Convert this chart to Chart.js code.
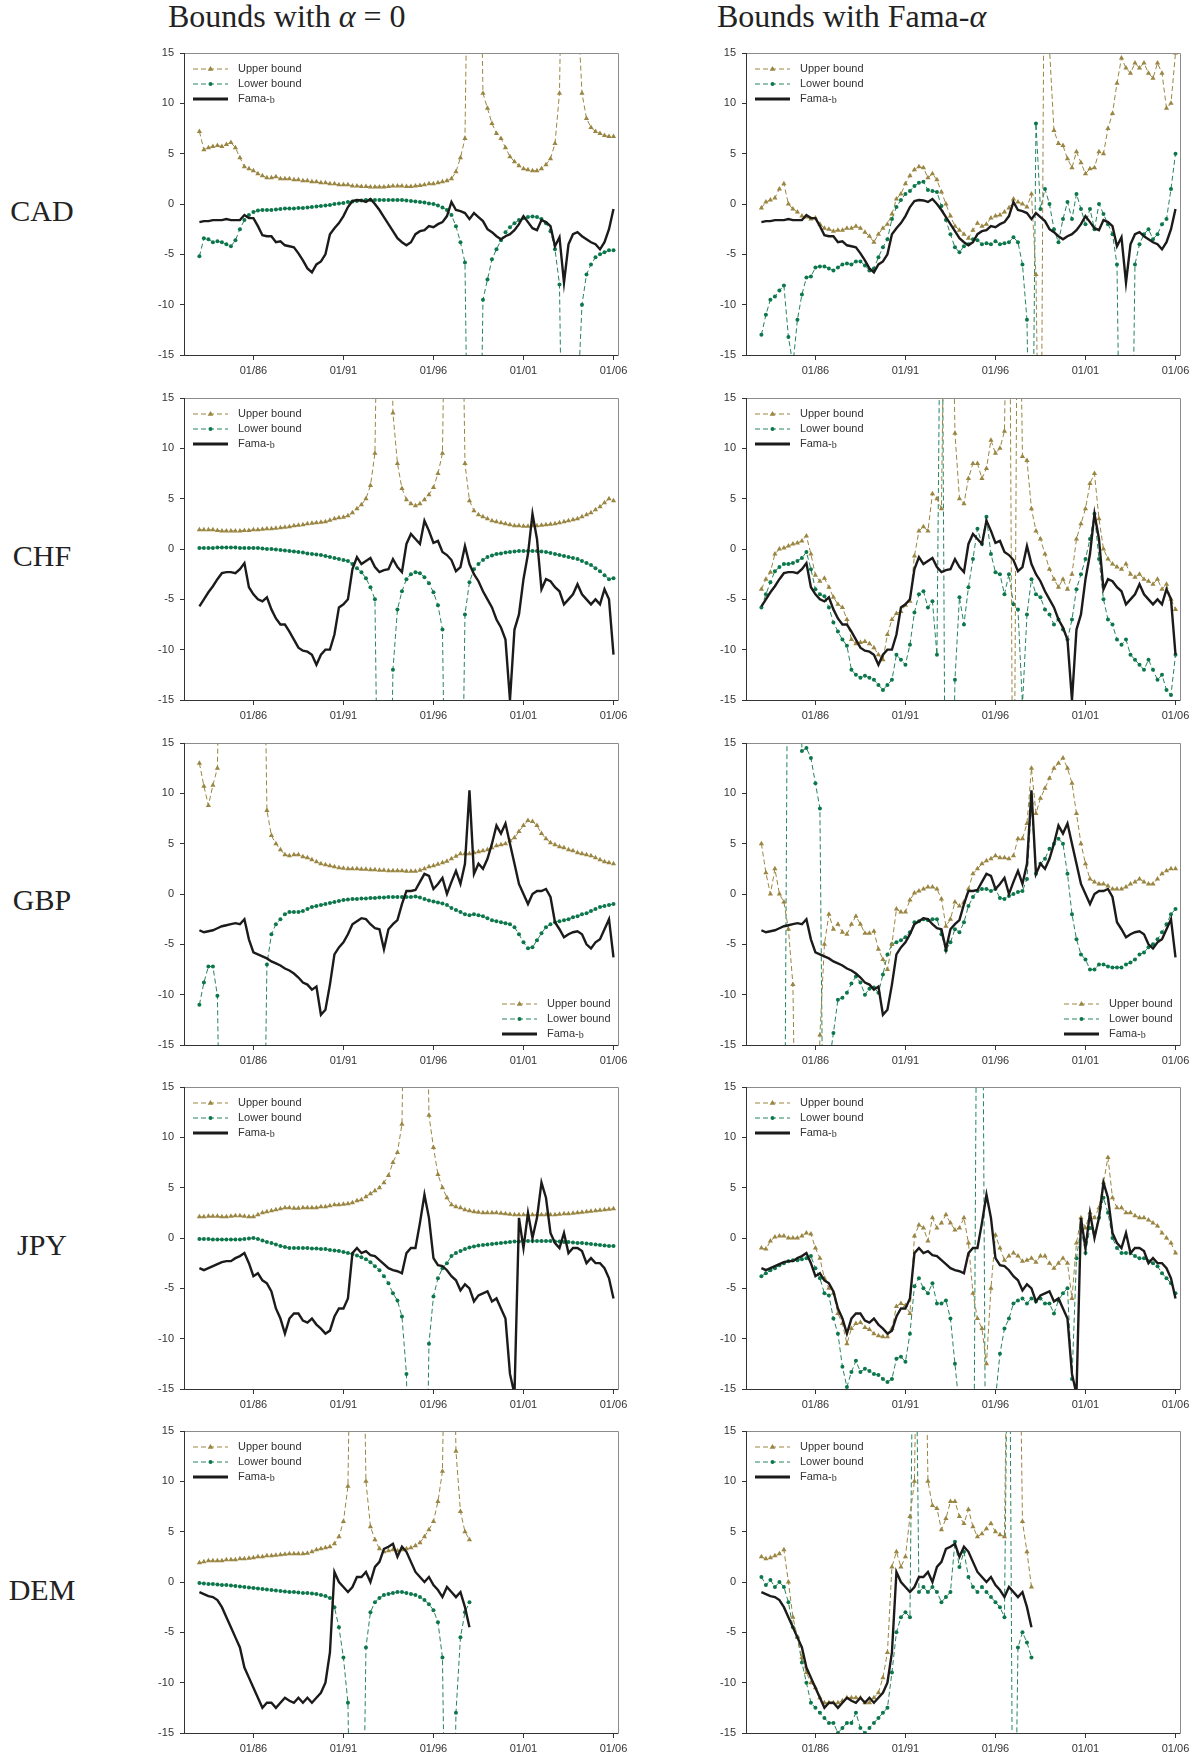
<!DOCTYPE html>
<html><head><meta charset="utf-8">
<script src="https://cdn.jsdelivr.net/npm/chart.js@4.4.0/dist/chart.umd.min.js"></script>
<style>
body{margin:0;background:#fff;width:1200px;height:1760px;position:relative;overflow:hidden}
.t{position:absolute;font-family:"Liberation Serif","DejaVu Serif",serif;color:#222;white-space:nowrap}
canvas{position:absolute}
</style></head><body>
<div class="t" style="left:168px;top:0px;font-size:32px;line-height:32px">Bounds with <i>α</i> = 0</div>
<div class="t" style="left:717px;top:0px;font-size:32px;line-height:32px">Bounds with Fama-<i>α</i></div>
<script>
// ---- time grid (quarterly samples) ----
const START = 1983, STEP = 0.25;
const xTickYears = [1986, 1991, 1996, 2001, 2006];
const xTickLabels = ['01/86', '01/91', '01/96', '01/01', '01/06'];
const yTicks = [-15, -10, -5, 0, 5, 10, 15];
const currencies = ['CAD', 'CHF', 'GBP', 'JPY', 'DEM'];
const seriesNames = ['Upper bound', 'Lower bound', 'Fama-b'];

// ---- CAD ----
const cad_fb = [-1.8,-1.7,-1.7,-1.6, -1.6,-1.6,-1.5,-1.6, -1.6,-1.6,-1.1,-1.4, -1.4,-2.2,-3.1,-3.2, -3.2,-3.8,-3.7,-4.1, -4.2,-4.3,-4.9,-5.6, -6.4,-6.8,-6.0,-5.7, -5.0,-3.0,-2.4,-1.9, -1.2,-0.3,0.3,0.4, 0.35,0.2,0.5,0.0, -0.6,-1.3,-2.0,-2.7, -3.4,-3.8,-4.1,-3.8, -3.0,-2.7,-2.6,-2.2, -2.3,-2.0,-1.8,-1.2, 0.2,-0.6,-0.7,-0.9, -1.5,-0.9,-1.3,-1.7, -2.5,-2.8,-3.2,-3.5, -3.2,-3.0,-2.6,-2.0, -1.2,-1.8,-2.4,-2.6, -1.6,-1.8,-2.2,-4.2, -3.3,-7.8,-4.0,-3.0, -2.8,-3.2,-3.5,-3.8, -4.0,-4.5,-3.8,-2.5, -0.5];
const cad_up0 = [7.2,5.4,5.6,5.7, 5.8,5.7,5.9,6.1, 5.6,4.6,3.7,3.5, 3.3,3.0,2.8,2.6, 2.6,2.7,2.5,2.5, 2.5,2.4,2.4,2.3, 2.3,2.2,2.2,2.1, 2.1,2.0,2.0,1.9, 1.9,1.9,1.8,1.8, 1.75,1.75,1.7,1.7, 1.7,1.7,1.75,1.8, 1.8,1.8,1.75,1.75, 1.8,1.85,1.9,2.0, 2.0,2.1,2.2,2.3, 2.5,3.2,4.6,6.5, 40,40,40,11, 9.5,8.0,7.0,6.5, 5.6,4.7,4.2,3.8, 3.5,3.4,3.3,3.3, 3.5,3.9,4.5,6.0, 11,40,40,40, 20,11,8.5,7.6, 7.2,7.0,6.8,6.7, 6.7];
const cad_lo0 = [-5.2,-3.4,-3.5,-3.8, -3.7,-3.8,-4.0,-4.2, -3.6,-2.5,-1.6,-1.1, -0.8,-0.65,-0.6,-0.6, -0.6,-0.55,-0.5,-0.45, -0.45,-0.45,-0.4,-0.4, -0.35,-0.3,-0.25,-0.2, -0.15,-0.1,0.0,0.05, 0.1,0.2,0.25,0.3, 0.35,0.4,0.4,0.4, 0.4,0.4,0.4,0.4, 0.4,0.4,0.35,0.3, 0.25,0.2,0.15,0.05, 0.0,-0.15,-0.35,-0.6, -1.1,-2.2,-3.8,-5.8, -40,-40,-40,-9.5, -7.5,-5.5,-4.5,-3.6, -2.8,-2.3,-1.9,-1.6, -1.4,-1.3,-1.25,-1.3, -1.5,-1.9,-2.7,-4.5, -8,-40,-40,-40, -20,-10,-7,-6, -5.3,-5.0,-4.8,-4.6, -4.6];
const cad_upF = [-0.4,0.2,0.4,0.6, 1.5,2.0,0.0,-0.5, -0.8,-1.2,-1.3,-1.5, -1.4,-2.0,-2.4,-2.5, -2.7,-2.6,-2.6,-2.4, -2.4,-2.2,-2.4,-2.8, -3.2,-3.8,-3.0,-2.4, -2.0,-1.0,0.5,1.0, 2.0,2.8,3.4,3.7, 3.6,2.6,3.0,2.4, 1.2,0.0,-1.2,-2.2, -2.6,-3.0,-3.4,-2.6, -1.9,-2.2,-2.0,-1.4, -1.2,-1.1,-0.8,-0.4, 0.5,0.2,0.0,-0.3, 1.0,-7.0,-40,40, 15.5,7.3,6.0,5.8, 4.5,3.6,5.2,4.1, 3.0,3.5,3.6,5.2, 5.0,7.5,9.0,12, 14.5,13.5,13,14, 13.5,14,13,12.5, 14,13,9.5,10, 15];
const cad_loF = [-13,-11,-9.5,-9.2, -8.6,-8.1,-13.2,-16, -11.5,-9.0,-7.3,-7.2, -6.3,-6.2,-6.2,-6.4, -6.6,-6.3,-6.0,-5.9, -6.0,-5.7,-5.7,-6.1, -6.6,-6.4,-5.3,-4.3, -3.5,-1.5,-0.3,0.4, 1.0,1.3,1.8,2.1, 2.2,1.4,1.3,1.2, -0.2,-1.6,-3.0,-4.3, -4.8,-4.2,-4.0,-3.5, -3.6,-4.0,-3.9,-4.0, -3.7,-4.0,-3.9,-3.8, -3.3,-3.8,-6.0,-11.5, -40,8,-0.5,1.5, 0.0,-2.5,-3.8,-1.5, 0.2,-1.5,1.0,-0.5, -2.0,-0.5,-2.5,0.0, -1.0,-2.0,-3.0,-6, -40,-40,-40,-6, -4.0,-3.0,-2.5,-3.5, -3.0,-2.0,-1.5,1.5, 5.0];

// ---- CHF ----
const chf_fb = [-5.7,-5.0,-4.3,-3.7, -3.0,-2.4,-2.3,-2.3, -2.4,-2.0,-1.4,-3.8, -4.5,-5.0,-5.2,-4.8, -6.0,-6.9,-7.5,-7.5, -8.2,-9.0,-9.8,-10.1, -10.2,-10.5,-11.5,-10.5, -10.0,-10.0,-8.5,-5.8, -5.5,-5.0,-2.0,-0.8, -1.5,-1.2,-0.9,-1.8, -2.3,-2.1,-2.0,-1.0, -1.8,-2.3,0.5,1.5, 1.0,0.5,2.8,1.8, 0.6,0.8,-0.3,-0.6, -1.1,-2.2,-1.8,0.3, -1.5,-2.5,-3.2,-4.2, -5.0,-5.8,-7.0,-7.8, -9.0,-15,-8,-6.5, -3.0,-0.5,3.5,1.0, -4.0,-3.0,-3.2,-3.8, -4.2,-5.5,-5.0,-4.5, -3.5,-4.5,-5.0,-5.5, -5.0,-5.5,-4.0,-5.0, -10.5];
const chf_up0 = [1.9,1.9,1.9,1.9, 1.85,1.8,1.8,1.8, 1.8,1.8,1.85,1.85, 1.9,1.9,1.95,2.0, 2.0,2.05,2.1,2.15, 2.2,2.3,2.35,2.4, 2.5,2.55,2.6,2.65, 2.7,2.85,3.0,3.1, 3.15,3.3,3.6,4.0, 4.4,5.0,6.3,9.5, 40,40,40,13.5, 8.5,6.0,4.9,4.5, 4.3,4.5,4.9,5.4, 6.1,7.5,9.5,40, 40,40,40,8.5, 4.8,3.8,3.4,3.2, 3.0,2.8,2.7,2.6, 2.5,2.4,2.3,2.3, 2.25,2.25,2.3,2.3, 2.35,2.4,2.45,2.5, 2.6,2.7,2.8,2.9, 3.0,3.2,3.4,3.6, 3.9,4.2,4.6,5.0, 4.8];
const chf_lo0 = [0.1,0.1,0.1,0.1, 0.15,0.15,0.15,0.15, 0.15,0.1,0.1,0.1, 0.1,0.1,0.05,0.0, 0.0,-0.05,-0.1,-0.15, -0.2,-0.25,-0.3,-0.35, -0.45,-0.5,-0.55,-0.6, -0.7,-0.8,-0.9,-1.0, -1.1,-1.2,-1.5,-1.9, -2.3,-2.9,-3.8,-5.0, -40,-40,-40,-12, -6.0,-4.2,-3.0,-2.5, -2.3,-2.4,-2.8,-3.4, -4.3,-5.6,-8.0,-40, -40,-40,-40,-6.5, -3.3,-2.0,-1.5,-1.1, -0.8,-0.65,-0.5,-0.45, -0.35,-0.3,-0.25,-0.2, -0.2,-0.2,-0.2,-0.2, -0.25,-0.3,-0.4,-0.5, -0.6,-0.7,-0.8,-0.9, -1.0,-1.2,-1.4,-1.6, -1.9,-2.2,-2.6,-3.0, -2.9];
const chf_upF = [-4.0,-3.0,-2.3,-0.5, 0.0,0.1,0.3,0.5, 0.6,0.8,1.3,-0.5, -2.6,-3.2,-2.9,-3.8, -4.8,-5.5,-5.8,-7.0, -9.0,-9.4,-9.3,-9.2, -9.4,-9.8,-10.5,-11.0, -8.5,-7.0,-6.4,-6.2, -5.6,-5.2,-0.7,1.8, 2.2,1.8,5.5,5.0, 4.0,40,40,11.5, 5.0,4.5,7.0,8.5, 8.5,7.0,8.0,10.8, 9.5,10.0,11.7,40, -40,40,9.2,8.8, 4.0,1.8,1.0,-0.5, -2.0,-3.0,-3.8,-3.0, -4.0,-2.5,1.0,2.5, 4.0,6.5,7.5,3.0, 0.0,-1.0,-1.5,-1.8, -2.0,-1.5,-2.5,-2.8, -2.5,-3.0,-3.2,-3.5, -3.0,-4.0,-3.5,-5.0, -6.0];
const chf_loF = [-5.8,-4.5,-3.3,-2.2, -1.8,-1.5,-1.5,-1.4, -1.2,-0.9,-0.3,-2.0, -4.0,-4.5,-4.7,-5.8, -7.3,-8.2,-9.0,-9.6, -12.0,-12.5,-12.8,-12.6, -12.8,-13.0,-13.5,-14.0, -13.5,-13.0,-10.5,-11.0, -11.5,-9.5,-6.3,-4.5, -4.2,-5.8,-5.2,-10.5, 40,-40,-40,-13, -4.8,-7.5,-3.8,-1.0, 2.0,0.5,3.2,-0.5, -2.3,-2.5,-4.5,-2.5, -5.5,-6.0,-15.5,-6.5, -3.0,-4.5,-4.8,-6.0, -6.5,-7.5,-7.0,-8.0, -9.0,-7.0,-4.0,-2.5, -1.0,1.0,3.5,-1.0, -5.0,-7.0,-7.5,-9.0, -9.5,-9.0,-10.5,-11.0, -11.5,-12.0,-11.0,-12.0, -13.0,-12.5,-14.0,-14.5, -10.5];

// ---- GBP ----
const gbp_fb = [-3.6,-3.8,-3.7,-3.6, -3.4,-3.2,-3.1,-3.0, -2.9,-3.0,-2.5,-4.5, -5.8,-6.0,-6.2,-6.4, -6.7,-6.9,-7.1,-7.4, -7.6,-7.9,-8.3,-8.8, -9.0,-9.5,-9.2,-12.0, -11.5,-9.0,-6.0,-5.3, -4.8,-4.0,-3.0,-2.7, -2.4,-2.5,-3.0,-3.4, -3.5,-5.5,-3.5,-3.0, -2.6,-1.0,0.3,0.3, 0.4,1.2,2.0,1.8, 0.5,1.0,1.6,0.0, 1.2,2.3,1.0,3.0, 10.3,2.0,3.0,2.5, 3.5,5.0,6.8,6.0, 7.0,5.0,3.0,1.0, 0.0,-1.0,0.0,0.3, 0.3,0.5,-0.3,-2.8, -3.5,-4.3,-4.0,-3.8, -3.7,-4.0,-5.0,-5.4, -4.8,-4.5,-3.5,-2.5, -6.3];
const gbp_up0 = [13.0,10.7,8.8,10.8, 12.5,40,40,40, 40,40,40,40, 40,40,40,8.3, 5.8,5.0,4.4,3.9, 3.8,3.9,3.9,3.7, 3.6,3.4,3.2,3.0, 2.9,2.8,2.7,2.6, 2.55,2.5,2.5,2.5, 2.45,2.45,2.4,2.4, 2.35,2.35,2.3,2.3, 2.3,2.3,2.25,2.25, 2.25,2.35,2.5,2.7, 2.8,2.95,3.1,3.25, 3.5,3.75,4.0,4.0, 4.0,4.1,4.2,4.3, 4.4,4.6,4.8,4.9, 5.0,5.3,5.6,6.2, 6.8,7.3,7.2,6.8, 6.0,5.5,5.1,4.9, 4.7,4.6,4.4,4.3, 4.1,4.0,3.9,3.8, 3.6,3.4,3.2,3.1, 3.0];
const gbp_lo0 = [-11.0,-8.8,-7.2,-7.2, -10.1,-40,-40,-40, -40,-40,-40,-40, -40,-40,-40,-7.0, -4.0,-3.0,-2.5,-2.0, -1.8,-1.8,-1.8,-1.7, -1.5,-1.3,-1.2,-1.1, -1.0,-0.9,-0.8,-0.7, -0.6,-0.55,-0.5,-0.5, -0.45,-0.45,-0.4,-0.4, -0.35,-0.35,-0.3,-0.3, -0.3,-0.3,-0.3,-0.3, -0.25,-0.35,-0.5,-0.65, -0.75,-0.85,-0.95,-1.1, -1.4,-1.6,-1.8,-2.0, -2.1,-2.0,-2.1,-2.2, -2.4,-2.6,-2.7,-2.8, -2.9,-3.0,-3.3,-4.0, -4.8,-5.4,-5.3,-4.6, -3.9,-3.3,-3.0,-2.8, -2.7,-2.6,-2.5,-2.3, -2.2,-2.0,-1.9,-1.7, -1.5,-1.3,-1.2,-1.1, -1.0];
const gbp_upF = [5.0,2.1,0.0,2.5, 0.0,-0.8,-3.5,-9.0, -40,-40,-40,-40, -40,-14,-5.0,-2.0, -3.5,-3.0,-3.8,-4.0, -3.0,-2.2,-3.0,-3.9, -3.9,-3.7,-5.5,-6.5, -7.5,-5.0,-1.5,-1.8, -1.8,-0.6,0.1,0.3, 0.5,0.7,0.7,0.5, -0.5,-3.2,-2.5,-0.8, -1.2,-0.8,0.5,2.0, 2.5,3.0,3.3,3.5, 3.8,3.6,3.6,3.5, 3.8,5.5,5.5,7.0, 12.5,8.0,9.5,10.5, 11.5,12.5,13.0,13.5, 12.5,11.0,8.0,5.0, 3.0,1.5,1.2,1.0, 1.0,0.8,0.5,0.5, 0.5,0.7,1.0,1.2, 1.5,1.2,1.0,1.0, 1.5,2.0,2.3,2.5, 2.5];
const gbp_loF = [-40,-40,-40,-40, -40,-40,40,40, 40,14.2,14.5,13.5, 11,8.5,-40,-17, -13.8,-10.5,-10.3,-9.8, -8.9,-8.2,-8.8,-10.0, -9.4,-9.3,-9.8,-8.0, -6.0,-5.0,-4.8,-4.6, -4.3,-3.8,-2.8,-2.7, -2.5,-2.6,-2.5,-2.5, -4.0,-5.6,-4.8,-3.5, -3.8,-2.8,-1.2,-0.3, 0.3,0.5,0.5,0.3, 0.5,-0.4,-0.5,-0.2, 0.0,0.2,0.3,1.5, 9.0,2.0,3.0,3.5, 4.5,5.0,5.5,5.0, 2.0,-2.0,-4.5,-6.0, -6.5,-7.5,-7.5,-7.0, -7.0,-7.2,-7.3,-7.3, -7.3,-7.0,-6.8,-6.5, -6.0,-5.8,-5.3,-5.0, -4.5,-3.8,-3.0,-2.0, -1.5];

// ---- JPY ----
const jpy_fb = [-3.0,-3.2,-3.0,-2.8, -2.6,-2.4,-2.3,-2.3, -2.0,-1.8,-1.5,-2.5, -3.8,-3.5,-4.2,-4.5, -5.3,-7.0,-8.0,-9.5, -8.0,-7.5,-7.5,-8.2, -8.4,-8.0,-8.6,-9.0, -9.5,-9.2,-7.8,-7.0, -7.0,-6.0,-1.5,-1.0, -1.5,-1.3,-1.7,-1.8, -2.2,-2.6,-3.0,-3.2, -3.3,-3.5,-1.5,-1.0, -1.0,1.5,4.3,2.0, -2.0,-2.7,-2.8,-3.2, -3.8,-4.2,-5.2,-4.6, -5.0,-6.3,-5.7,-5.5, -5.3,-6.3,-6.0,-7.0, -8.0,-13.5,-15.5,2.0, -1.0,2.5,0.0,2.0, 5.5,4.0,0.5,-0.5, -1.0,0.5,-1.5,-1.0, -1.0,-1.3,-2.5,-2.0, -2.5,-2.5,-3.0,-4.0, -6.0];
const jpy_up0 = [2.1,2.1,2.15,2.15, 2.15,2.1,2.1,2.15, 2.2,2.2,2.15,2.1, 2.1,2.3,2.5,2.6, 2.7,2.8,2.9,3.0, 3.0,2.95,2.95,3.0, 3.0,3.0,3.0,3.1, 3.1,3.2,3.3,3.3, 3.35,3.4,3.5,3.7, 3.8,4.1,4.4,4.7, 5.0,5.5,6.2,7.5, 8.5,11.3,40,40, 40,40,40,12.2, 9.0,6.3,5.0,4.0, 3.3,3.1,3.0,2.8, 2.7,2.6,2.55,2.5, 2.5,2.5,2.5,2.45, 2.4,2.35,2.3,2.3, 2.3,2.3,2.3,2.3, 2.3,2.3,2.3,2.3, 2.35,2.4,2.4,2.45, 2.5,2.55,2.6,2.65, 2.7,2.75,2.8,2.85, 2.9];
const jpy_lo0 = [-0.1,-0.1,-0.1,-0.15, -0.15,-0.15,-0.15,-0.15, -0.15,-0.15,-0.1,-0.05, 0.0,-0.1,-0.25,-0.4, -0.5,-0.65,-0.8,-0.9, -1.0,-1.0,-1.0,-1.0, -1.0,-1.05,-1.05,-1.1, -1.1,-1.2,-1.25,-1.3, -1.4,-1.5,-1.6,-1.75, -1.9,-2.1,-2.4,-2.8, -3.2,-3.8,-4.5,-5.5, -6.2,-7.8,-13.5,-40, -40,-40,-40,-10.5, -5.8,-4.0,-3.0,-2.5, -1.8,-1.5,-1.3,-1.1, -0.95,-0.85,-0.75,-0.7, -0.65,-0.6,-0.55,-0.5, -0.45,-0.4,-0.35,-0.35, -0.3,-0.3,-0.3,-0.3, -0.3,-0.3,-0.3,-0.35, -0.35,-0.4,-0.4,-0.45, -0.5,-0.5,-0.55,-0.6, -0.65,-0.7,-0.75,-0.8, -0.8];
const jpy_upF = [-1.0,-1.1,-0.3,0.1, 0.2,0.2,0.0,0.0, 0.0,0.2,0.5,0.4, -1.0,-2.0,-4.0,-5.0, -5.5,-7.5,-8.5,-10.5, -9.0,-8.5,-8.4,-8.9, -9.1,-9.5,-9.7,-9.8, -9.8,-9.0,-6.8,-6.5, -6.7,-7.5,0.2,1.3, 1.0,-0.3,2.0,1.0, 1.5,2.3,1.5,0.8, 1.0,2.0,-0.5,-5.5, -8.0,-9.0,-12.5,-5.0, 0.3,-1.0,-2.2,-1.8, -1.5,-1.8,-2.3,-2.2, -2.0,-2.4,-1.8,-1.8, -2.5,-3.0,-2.5,-2.0, -2.5,-6.0,-0.5,2.0, 1.0,2.5,2.0,3.0, 5.5,8.0,4.0,3.0, 3.0,2.5,2.5,2.2, 2.0,2.0,1.8,1.5, 1.2,0.5,0.0,-0.5, -1.5];
const jpy_loF = [-3.8,-3.5,-3.2,-3.0, -2.7,-2.5,-2.3,-2.2, -2.2,-2.1,-2.0,-1.8, -3.0,-4.0,-5.5,-5.7, -8.0,-9.5,-12.8,-14.8, -13.3,-12.2,-13.3,-13.0, -13.2,-13.5,-13.6,-14.0, -14.3,-14.0,-12.0,-11.8, -12.3,-9.5,-4.8,-4.0, -5.0,-5.5,-4.5,-6.5, -6.5,-6.2,-8.0,-12.5, -17,-20,-25,-40, 40,40,-40,-20, -16,-11.5,-9.0,-8.0, -6.5,-6.2,-6.0,-6.5, -6.0,-6.3,-6.0,-6.5, -6.5,-7.5,-6.2,-5.5, -5.0,-14.0,-2.0,1.0, -1.5,1.0,0.5,2.0, 4.0,2.5,0.0,-1.0, -1.5,-1.5,-1.5,-1.8, -2.0,-2.0,-2.3,-2.5, -2.8,-3.5,-4.0,-4.5, -5.5];

// ---- DEM (ends 1998) ----
const dem_fb = [-1.0,-1.2,-1.4,-1.5, -1.8,-2.5,-3.5,-4.5, -5.5,-6.5,-8.5,-9.5, -10.5,-11.5,-12.5,-12.0, -12.0,-12.5,-12.0,-11.5, -11.8,-12.0,-11.5,-12.0, -11.5,-12.0,-11.5,-11.0, -10.0,-7.0,1.0,0.0, -0.5,-1.0,-0.5,0.5, 0.5,1.0,0.0,1.5, 2.0,3.3,3.5,3.8, 2.5,3.5,3.0,2.0, 1.0,0.5,0.0,0.5, -0.3,-0.8,-1.5,-0.5, -1.0,-1.5,-1.0,-2.5, -4.5];
const dem_up0 = [1.9,2.0,2.1,2.1, 2.1,2.1,2.2,2.2, 2.2,2.3,2.3,2.35, 2.4,2.5,2.5,2.6, 2.6,2.65,2.7,2.75, 2.8,2.8,2.8,2.8, 2.85,3.0,3.2,3.3, 3.4,3.5,3.8,4.5, 6.0,9.5,40,40, 40,10,5.5,4.2, 3.3,3.0,3.1,3.2, 3.1,3.2,3.3,3.4, 3.6,3.9,4.5,5.2, 6.0,8.0,11,40, 40,13,7.0,5.0, 4.2];
const dem_lo0 = [-0.1,-0.15,-0.2,-0.2, -0.25,-0.3,-0.3,-0.35, -0.4,-0.45,-0.5,-0.55, -0.6,-0.65,-0.7,-0.75, -0.8,-0.85,-0.9,-0.95, -1.0,-1.0,-1.05,-1.1, -1.1,-1.15,-1.2,-1.3, -1.4,-1.6,-2.5,-4.5, -7.5,-12,-40,-40, -40,-6.5,-3.0,-2.0, -1.6,-1.3,-1.2,-1.1, -1.0,-1.0,-1.1,-1.2, -1.3,-1.5,-1.8,-2.2, -2.8,-4.0,-7.5,-40, -40,-13,-5.5,-3.0, -2.0];
const dem_upF = [2.5,2.3,2.4,2.6, 2.8,3.2,0.0,-3.5, -5.5,-7.5,-9.0,-10.0, -10.5,-11.5,-12.0,-12.0, -12.0,-12.0,-11.8,-11.5, -11.5,-11.5,-11.5,-12.0, -12.0,-11.5,-11.0,-9.5, -7.0,1.5,3.0,1.5, 2.5,6.5,10.0,40, 40,10,7.6,7.3, 5.2,6.3,8.0,8.0, 6.5,5.8,7.2,5.5, 4.5,4.8,5.3,5.8, 5.0,4.7,4.5,40, 40,40,6.0,3.0, -0.5];
const dem_loF = [0.5,-0.3,0.2,-0.5, 0.0,-0.5,-2.0,-4.5, -5.5,-8.0,-10.0,-12.0, -12.5,-13.0,-13.5,-14.0, -14.0,-15.0,-14.5,-14.0, -14.0,-13.0,-14.5,-15.0, -14.5,-14.0,-13.5,-13.0, -12.5,-9.0,-5.0,-3.5, -3.0,-3.5,40,-1.0, -0.5,-1.0,-0.5,-1.0, -2.0,-1.5,-1.0,4.0, 1.5,3.0,0.5,-0.5, -1.0,-0.5,-1.0,-1.5, -2.0,-2.5,-3.5,40, -40,-6.5,-5.0,-6.0, -7.5];

// ---- layout ----
const COL_UP = '#9a8642', COL_LO = '#0d774c', COL_LO_LINE = 'rgba(13,119,76,0.9)', COL_FB = '#1d1a1a';
const ROW_TOP = [53, 398, 743, 1087, 1431];
const COL_LEFT = [185, 747];
const PLOT_W = 433, PLOT_H = 302, YAX_W = 50, XAX_H = 30, PAD_T = 8, PAD_R = 20;
const LABEL_Y = [211, 556, 900, 1245, 1590];
const SANS = '"Liberation Sans", Arial, sans-serif';

const panels = [
  {row:0, col:0, up:cad_up0, lo:cad_lo0, fb:cad_fb, leg:'tl'},
  {row:0, col:1, up:cad_upF, lo:cad_loF, fb:cad_fb, leg:'tl'},
  {row:1, col:0, up:chf_up0, lo:chf_lo0, fb:chf_fb, leg:'tl'},
  {row:1, col:1, up:chf_upF, lo:chf_loF, fb:chf_fb, leg:'tl'},
  {row:2, col:0, up:gbp_up0, lo:gbp_lo0, fb:gbp_fb, leg:'br'},
  {row:2, col:1, up:gbp_upF, lo:gbp_loF, fb:gbp_fb, leg:'br'},
  {row:3, col:0, up:jpy_up0, lo:jpy_lo0, fb:jpy_fb, leg:'tl'},
  {row:3, col:1, up:jpy_upF, lo:jpy_loF, fb:jpy_fb, leg:'tl'},
  {row:4, col:0, up:dem_up0, lo:dem_lo0, fb:dem_fb, leg:'tl'},
  {row:4, col:1, up:dem_upF, lo:dem_loF, fb:dem_fb, leg:'tl'}
];

// row labels
currencies.forEach((c, i) => {
  const d = document.createElement('div');
  d.className = 't';
  d.style.cssText = `left:0px;width:84px;text-align:center;top:${LABEL_Y[i]-15}px;font-size:30px;line-height:30px`;
  d.textContent = c;
  document.body.appendChild(d);
});

function pts(arr) { return arr.map((v, i) => ({x: START + i * STEP, y: v})); }

const boxPlugin = {
  id: 'box',
  afterDraw(chart) {
    const {ctx, chartArea: a} = chart;
    ctx.save();
    ctx.lineWidth = 1;
    ctx.strokeStyle = '#8c8c8c';
    ctx.beginPath();
    ctx.moveTo(a.left, a.top + 0.5); ctx.lineTo(a.right + 0.5, a.top + 0.5); ctx.lineTo(a.right + 0.5, a.bottom);
    ctx.stroke();
    ctx.strokeStyle = '#333';
    ctx.beginPath();
    ctx.moveTo(a.left - 0.5, a.top); ctx.lineTo(a.left - 0.5, a.bottom + 0.5); ctx.lineTo(a.right + 0.5, a.bottom + 0.5);
    ctx.stroke();
    ctx.restore();
  }
};

function tri(ctx, x, y, r) {
  ctx.beginPath();
  ctx.moveTo(x, y - r); ctx.lineTo(x + r * 0.95, y + r * 0.6); ctx.lineTo(x - r * 0.95, y + r * 0.6);
  ctx.closePath(); ctx.fill();
}

const legendPlugin = {
  id: 'lg',
  afterDatasetsDraw(chart, args, opts) {
    const {ctx, chartArea: a} = chart;
    let x0, ys;
    if (opts.pos === 'br') { x0 = a.right - 116; ys = [a.bottom - 41, a.bottom - 26, a.bottom - 11]; }
    else { x0 = a.left + 8; ys = [a.top + 16, a.top + 31, a.top + 46]; }
    const tx = x0 + 45, L = 35;
    ctx.save();
    ctx.lineWidth = 1; ctx.setLineDash([5, 3]);
    ctx.strokeStyle = COL_UP;
    ctx.beginPath(); ctx.moveTo(x0, ys[0]); ctx.lineTo(x0 + L, ys[0]); ctx.stroke();
    ctx.fillStyle = COL_UP; tri(ctx, x0 + L / 2, ys[0], 3);
    ctx.strokeStyle = COL_LO_LINE;
    ctx.beginPath(); ctx.moveTo(x0, ys[1]); ctx.lineTo(x0 + L, ys[1]); ctx.stroke();
    ctx.fillStyle = COL_LO; ctx.beginPath(); ctx.arc(x0 + L / 2, ys[1], 2, 0, Math.PI * 2); ctx.fill();
    ctx.setLineDash([]); ctx.lineWidth = 3; ctx.strokeStyle = COL_FB;
    ctx.beginPath(); ctx.moveTo(x0, ys[2]); ctx.lineTo(x0 + L, ys[2]); ctx.stroke();
    ctx.fillStyle = '#333'; ctx.textBaseline = 'middle'; ctx.font = '11px ' + SANS;
    ctx.fillText(seriesNames[0], tx, ys[0]);
    ctx.fillText(seriesNames[1], tx, ys[1]);
    const base = seriesNames[2].slice(0, -1);
    ctx.fillText(base, tx, ys[2]);
    const w = ctx.measureText(base).width;
    ctx.font = '10px "Liberation Serif", serif';
    ctx.fillText(seriesNames[2].slice(-1), tx + w, ys[2] + 1);
    ctx.restore();
  }
};

panels.forEach(p => {
  const cv = document.createElement('canvas');
  const W = YAX_W + PLOT_W + PAD_R, H = PAD_T + PLOT_H + XAX_H;
  cv.width = W; cv.height = H;
  cv.style.left = (COL_LEFT[p.col] - YAX_W) + 'px';
  cv.style.top = (ROW_TOP[p.row] - PAD_T) + 'px';
  cv.style.width = W + 'px'; cv.style.height = H + 'px';
  document.body.appendChild(cv);
  new Chart(cv, {
    type: 'line',
    data: {
      datasets: [
        {label: seriesNames[2], data: pts(p.fb), borderColor: COL_FB, borderWidth: 2.4, pointRadius: 0, tension: 0, order: 0},
        {label: seriesNames[0], data: pts(p.up), borderColor: COL_UP, borderWidth: 1, borderDash: [5, 3],
         pointStyle: 'triangle', pointRadius: 3, pointBackgroundColor: COL_UP, pointBorderWidth: 0, tension: 0, order: 1},
        {label: seriesNames[1], data: pts(p.lo), borderColor: COL_LO_LINE, borderWidth: 1, borderDash: [5, 3],
         pointStyle: 'circle', pointRadius: 2, pointBackgroundColor: COL_LO, pointBorderWidth: 0, tension: 0, order: 2}
      ]
    },
    options: {
      responsive: false, animation: false, devicePixelRatio: 1,
      layout: {padding: {top: PAD_T, right: PAD_R, bottom: 0, left: 0}},
      plugins: {legend: {display: false}, tooltip: {enabled: false}, lg: {pos: p.leg}},
      scales: {
        x: {
          type: 'linear', min: 1982.2, max: 2006.25,
          afterBuildTicks: s => { s.ticks = xTickYears.map(v => ({value: v})); },
          afterFit: s => { s.height = XAX_H; s.paddingLeft = 0; s.paddingRight = 0; },
          ticks: {callback: v => xTickLabels[xTickYears.indexOf(v)], font: {size: 11, family: SANS}, color: '#333', maxRotation: 0, autoSkip: false, padding: 4},
          grid: {display: true, drawOnChartArea: false, drawTicks: true, tickLength: 5, color: '#333'},
          border: {display: false}
        },
        y: {
          min: -15, max: 15,
          afterBuildTicks: s => { s.ticks = yTicks.map(v => ({value: v})); },
          afterFit: s => { s.width = YAX_W; s.paddingTop = 0; s.paddingBottom = 0; },
          ticks: {font: {size: 11, family: SANS}, color: '#333', padding: 6},
          grid: {display: true, drawOnChartArea: false, drawTicks: true, tickLength: 5, color: '#333'},
          border: {display: false}
        }
      }
    },
    plugins: [boxPlugin, legendPlugin]
  });
});
</script>
</body></html>
